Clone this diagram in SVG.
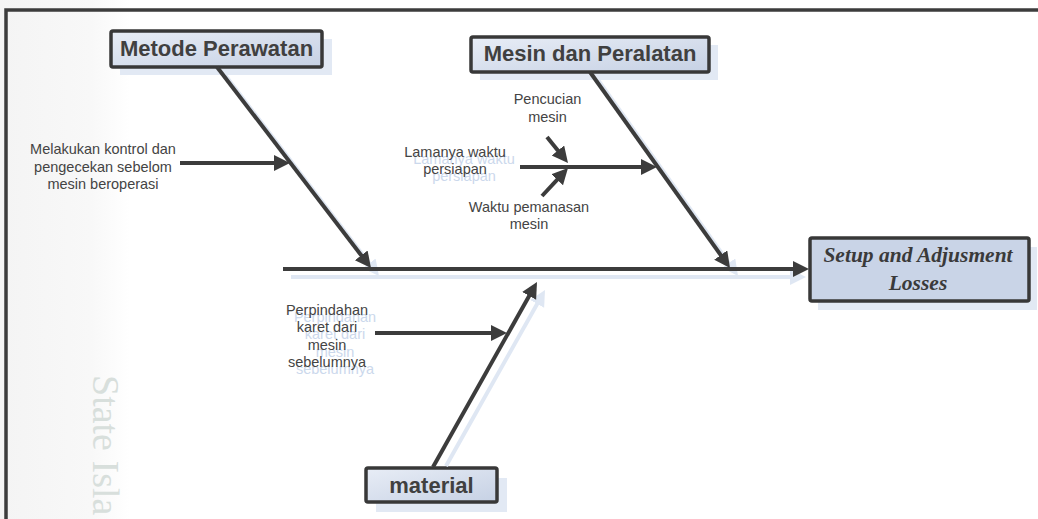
<svg xmlns="http://www.w3.org/2000/svg" width="1038" height="519" viewBox="0 0 1038 519">
  <style>
    .frame { stroke: #3c3c3c; stroke-width: 3.5; fill: none; }
    .box { stroke: #383838; stroke-width: 3.5; }
    .boxshadow { fill: #e2e9f4; }
    .title { font-family: "Liberation Sans", Arial, sans-serif; font-weight: bold; font-size: 22px; fill: #404040; text-anchor: middle; }
    .effect { font-family: "Liberation Serif", "Times New Roman", serif; font-weight: bold; font-style: italic; font-size: 21.5px; fill: #3a3a3a; text-anchor: middle; }
    .cause { font-family: "Liberation Sans", Arial, sans-serif; font-size: 14.5px; fill: #444444; text-anchor: middle; }
    .ghost { fill: #cbd8ec; }
    .bone { stroke: #3c3c3c; stroke-width: 4; fill: none; marker-end: url(#head); }
    .bonesh { stroke: #dfe7f3; stroke-width: 4; fill: none; marker-end: url(#headsh); }
    .mark { font-family: "Liberation Serif", "Times New Roman", serif; font-size: 38px; fill: #d8dfdc; }
  </style>
  <defs>
    <linearGradient id="fillBox" x1="0" y1="0" x2="1" y2="1">
      <stop offset="0" stop-color="#e8edf6"/>
      <stop offset="1" stop-color="#c6d1e4"/>
    </linearGradient>
    <linearGradient id="band" x1="0" y1="0" x2="1" y2="0">
      <stop offset="0" stop-color="#f4f4f4"/>
      <stop offset="0.7" stop-color="#f8f8f8"/>
      <stop offset="1" stop-color="#ffffff"/>
    </linearGradient>
    <marker id="head" markerUnits="userSpaceOnUse" markerWidth="18" markerHeight="18" refX="6" refY="8" orient="auto">
      <path d="M0,0 L16,8 L0,16 z" fill="#3c3c3c"/>
    </marker>
    <marker id="headsh" markerUnits="userSpaceOnUse" markerWidth="18" markerHeight="18" refX="6" refY="8" orient="auto">
      <path d="M0,0 L16,8 L0,16 z" fill="#dfe7f3"/>
    </marker>
  </defs>

  <rect width="1038" height="519" fill="#ffffff"/>
  <!-- faint background band and lettering -->
  <rect x="0" y="0" width="130" height="519" fill="url(#band)"/>
  <text class="mark" transform="translate(93,375) rotate(90)">State Isla</text>

  <!-- page frame -->
  <path class="frame" d="M6,519 V10 H1038"/>

  <!-- nodes -->
  <g id="metode-perawatan">
    <rect class="boxshadow" x="120" y="39" width="212" height="36"/>
    <rect class="box" x="111" y="31" width="211" height="36" rx="2" fill="url(#fillBox)"/>
    <text class="title" x="216.5" y="56">Metode Perawatan</text>
  </g>
  <g id="mesin-dan-peralatan">
    <rect class="boxshadow" x="480" y="45" width="238" height="35"/>
    <rect class="box" x="471" y="37" width="238" height="35" rx="2" fill="url(#fillBox)"/>
    <text class="title" x="590" y="61">Mesin dan Peralatan</text>
  </g>
  <g id="material">
    <rect class="boxshadow" x="376" y="478" width="131" height="34"/>
    <rect class="box" x="366" y="468" width="131" height="34" rx="2" fill="url(#fillBox)"/>
    <text class="title" x="431.5" y="493">material</text>
  </g>
  <g id="setup-losses">
    <rect class="boxshadow" x="818" y="247" width="219" height="63"/>
    <rect class="box" x="810" y="238" width="219" height="63" rx="2" fill="#c9d4e7"/>
    <text class="effect" x="918" y="262">Setup and Adjusment</text>
    <text class="effect" x="918" y="290">Losses</text>
  </g>

  <!-- cause labels -->
  <g id="kontrol">
    <text class="cause" x="103" y="154">Melakukan kontrol dan</text>
    <text class="cause" x="103" y="171.5">pengecekan sebelom</text>
    <text class="cause" x="103" y="189">mesin beroperasi</text>
  </g>
  <g id="pencucian">
    <text class="cause" x="547.5" y="104">Pencucian</text>
    <text class="cause" x="547.5" y="121.5">mesin</text>
  </g>
  <g id="lamanya">
    <text class="cause ghost" x="464" y="163.5">Lamanya waktu</text>
    <text class="cause ghost" x="464" y="180.5">persiapan</text>
    <text class="cause" x="455" y="156.5">Lamanya waktu</text>
    <text class="cause" x="455" y="173.5">persiapan</text>
  </g>
  <g id="pemanasan">
    <text class="cause" x="529" y="211.5">Waktu pemanasan</text>
    <text class="cause" x="529" y="229">mesin</text>
  </g>
  <g id="perpindahan">
    <text class="cause ghost" x="335" y="321.5">Perpindahan</text>
    <text class="cause ghost" x="335" y="339">karet dari</text>
    <text class="cause ghost" x="335" y="356.5">mesin</text>
    <text class="cause ghost" x="335" y="374">sebelumnya</text>
    <text class="cause" x="327" y="314.5">Perpindahan</text>
    <text class="cause" x="327" y="332">karet dari</text>
    <text class="cause" x="327" y="349.5">mesin</text>
    <text class="cause" x="327" y="367">sebelumnya</text>
  </g>

  <!-- connectors -->
  <g id="connectors">
    <g id="connector-shadows">
      <line class="bonesh" x1="291" y1="277" x2="796" y2="277"/>
      <line class="bonesh" x1="225" y1="75" x2="372.9" y2="268.1"/>
      <line class="bonesh" x1="598" y1="80" x2="732.2" y2="267.9"/>
      <line class="bonesh" x1="446" y1="466" x2="540.1" y2="298.7"/>
    </g>
    <line class="bone" x1="283" y1="269" x2="799" y2="269"/>
    <line class="bone" x1="217" y1="67" x2="364.9" y2="260.1"/>
    <line class="bone" x1="590" y1="72" x2="724.2" y2="259.9"/>
    <line class="bone" x1="433" y1="467" x2="532.1" y2="290.7"/>
    <line class="bone" x1="180" y1="163" x2="280" y2="163"/>
    <line class="bone" x1="520" y1="167" x2="647" y2="167"/>
    <line class="bone" x1="547" y1="137" x2="561.7" y2="155.2"/>
    <line class="bone" x1="542" y1="196" x2="561.2" y2="175.3"/>
    <line class="bone" x1="375" y1="333" x2="497" y2="333"/>
  </g>
</svg>
